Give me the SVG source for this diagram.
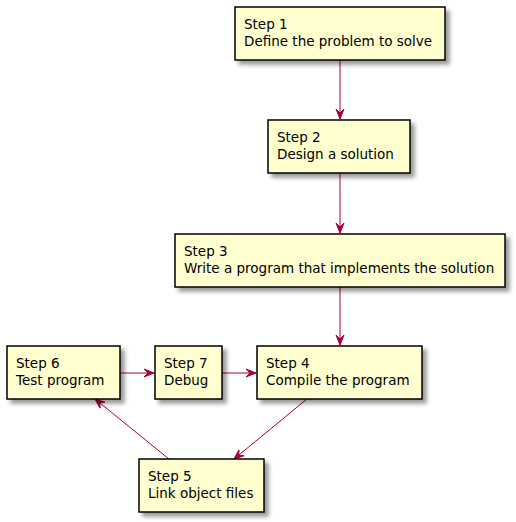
<svg xmlns="http://www.w3.org/2000/svg" width="516" height="522" viewBox="0 0 516 522">
<defs>
<filter id="sh" x="-10%" y="-10%" width="130%" height="140%">
<feGaussianBlur in="SourceAlpha" stdDeviation="2"/>
<feOffset dx="4" dy="4" result="b"/>
<feComponentTransfer><feFuncA type="linear" slope="0.4"/></feComponentTransfer>
<feMerge><feMergeNode/><feMergeNode in="SourceGraphic"/></feMerge>
</filter>
<marker id="ah" viewBox="0 0 10 10" refX="10" refY="5" markerWidth="10" markerHeight="10" markerUnits="userSpaceOnUse" orient="auto">
<path d="M10,5 L0,1 L4,5 L0,9 Z" fill="#A80036" stroke="#A80036" stroke-width="1"/>
</marker>
<style>
.box{fill:#FEFECE;stroke:#000;stroke-width:1.5;filter:url(#sh)}
.t{font-family:"DejaVu Sans",sans-serif;font-size:13.5px;fill:#000}
.c{stroke:#A80036;stroke-width:1;fill:none;marker-end:url(#ah)}
</style>
</defs>
<g id="connectors">
<line class="c" x1="340" y1="60" x2="340" y2="119"/>
<line class="c" x1="340" y1="173" x2="340" y2="233"/>
<line class="c" x1="340" y1="287" x2="340" y2="345"/>
<line class="c" x1="307" y1="399" x2="234" y2="459"/>
<line class="c" x1="169" y1="459" x2="95" y2="399"/>
<line class="c" x1="120" y1="373" x2="154" y2="373"/>
<line class="c" x1="222" y1="373" x2="256" y2="373"/>
</g>
<g id="step1"><rect class="box" x="235" y="7" width="210" height="53"/><text class="t" x="244" y="29">Step 1</text><text class="t" x="244" y="46">Define the problem to solve</text></g>
<g id="step2"><rect class="box" x="268" y="120" width="142" height="53"/><text class="t" x="277" y="142">Step 2</text><text class="t" x="277" y="159">Design a solution</text></g>
<g id="step3"><rect class="box" x="175" y="234" width="330" height="53"/><text class="t" x="184" y="256">Step 3</text><text class="t" x="184" y="273">Write a program that implements the solution</text></g>
<g id="step4"><rect class="box" x="257" y="346" width="165" height="53"/><text class="t" x="266" y="368">Step 4</text><text class="t" x="266" y="385">Compile the program</text></g>
<g id="step5"><rect class="box" x="139" y="459" width="125" height="53"/><text class="t" x="148" y="481">Step 5</text><text class="t" x="148" y="498">Link object files</text></g>
<g id="step6"><rect class="box" x="7" y="346" width="113" height="53"/><text class="t" x="16" y="368">Step 6</text><text class="t" x="16" y="385">Test program</text></g>
<g id="step7"><rect class="box" x="155" y="346" width="67" height="53"/><text class="t" x="164" y="368">Step 7</text><text class="t" x="164" y="385">Debug</text></g>
</svg>
